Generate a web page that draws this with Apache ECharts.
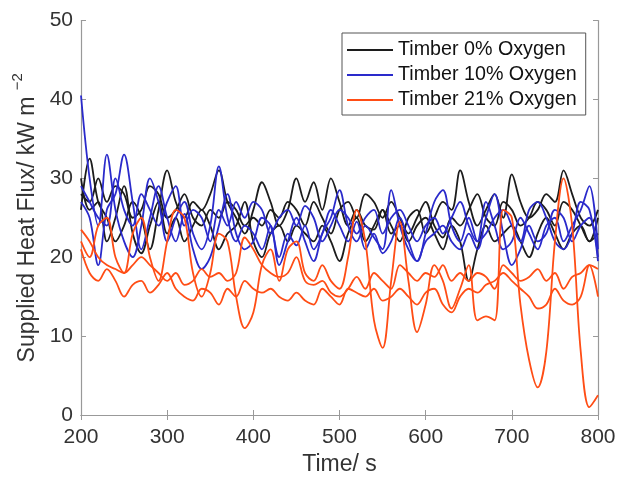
<!DOCTYPE html>
<html><head><meta charset="utf-8">
<script src="https://cdn.jsdelivr.net/npm/echarts@6/dist/echarts.min.js"></script>
<style>html,body{margin:0;padding:0;background:#fff}#c{width:617px;height:477px}</style>
</head><body><div id="c"></div>
<script>
var times = [200,210,220,230,240,250,260,270,280,290,300,310,320,330,340,350,360,370,380,390,400,410,420,430,440,450,460,470,480,490,500,510,520,530,540,550,560,570,580,590,600,610,620,630,640,650,660,670,680,690,700,710,720,730,740,750,760,770,780,790,800];
var xTicks = [200,300,400,500,600,700,800];
var yTicks = [0,10,20,30,40,50];
var seriesNames = ['Timber 0% Oxygen','Timber 10% Oxygen','Timber 21% Oxygen'];

var black1 = [26,32.5,27,25,22,24,27,25,21,26,31,27,25,27,26,28,31,27,25,23,26,29.5,27,24,26,30,27,29.5,26,30,27,24,26,24,23.5,26,24,22,25,26,23,25,27,26,31,27,24,26,28,25,30.5,27,25,26,28,27,31,28,25,24,26];
var black2 = [28,27,30,27,29,28,25,26,29,28,25,26,28,25,24,26,25,27,26,24,25,24,26,25,27,26,24,27,25,23,26,27,25,28,27,25,27,25,23,25,27,24,22.5,25,24,26,28,25,24,27,26,24,25,27,26,24,27,26,24,22,25];
var black3 = [30,26,27,22,25,29,23,20.5,24,27,23,25,22,24,26,24,21,23,24,27,22,20,23,24,22,24,23,22,24,22,19.5,23,25,22,24,26,23,24,22,24,25,23,21,24,22,17,21,24,22,23,24,22,20,23,25,23,21,23,24,22,23];
var blue1 = [40.5,30,24,33,26,22,20,24,30,27,22,25,27,23,21,24,31.5,25,22,24,23,21,24,19,22,25,22,19.5,23,25,28.5,24,22,24,22.5,21,28.5,24,21,19.5,23,27,28.5,24,22,25,22,27,24,21,22,25,23,21,24,25,22,24,26,29,21];
var blue2 = [27,25,19,26,28,33,27,21,25,29,25,22,25.5,21,18.5,20,24,28,23,21,22,25,24,20,23,21.5,24,21,23,26,24,22,24.5,21,23,20.5,22,25,22,19.5,22,23,24,22,21,23,21,25,28,23,19,21,24,22,23,26,25,22,24,25,20];
var blue3 = [29,27,25,24,30,26,24,28,26,24,27,29,24,26,25,22,26,24,27,25,27,26,23,25,26,24,26.5,25,22,24,26,25,23,25,26,23,25,26,24,22,24,25,23,25,27,24,22,23,25,26,24,22,26,27,25,22,21,23,27,26,19.5];
var orange1 = [23.5,22,20,19,18.5,18,19,20,19,18,17,18,16.5,17,18.5,17.5,18,17,18,22.5,21,19,18,17.5,18,20,17,16.5,17,15.5,15,16,17.5,16,18,17,16,19,18,17,18,17.5,19,17,18,17,18,17.5,16,19,18,17,17.5,18.5,17,18,16,17.5,18,19,18.5];
var orange2 = [21,18,17,18.5,17,15,16.5,17,15.5,16.5,18,16,15,14.5,16,15.5,14,16,15,17,16,15.5,16,15,14.5,15.5,14.5,14,16,15,14,16,15.5,15,16,14.5,15,16,15,14,15.5,16,14,13,15,16,15.5,16.5,17,18,17,16,15,13.5,14,16,14.5,14,15,19,15];
var orange3 = [22,20,24,25,20,18,23,25,20,17,22,26,25,18,15,18,23,22,15,11,13,19,21,17,21,22,18,17,19,17,16,20,26,22,12,8.5,17,24.5,17,10.5,14,19,17,13.5,16,19,12,12.5,12,26,25,14,7,3.5,8,22,30,24,8,1,2.5];

function pairs(v){ return times.map(function(t,i){ return [t, v[i]]; }); }
var groups = [
  {name: seriesNames[0], color: '#1c1c1c', lines: [black1, black2, black3]},
  {name: seriesNames[1], color: '#2a2acb', lines: [blue1, blue2, blue3]},
  {name: seriesNames[2], color: '#ff4d15', lines: [orange1, orange2, orange3]}
];
var series = [];
groups.forEach(function(g){
  g.lines.forEach(function(v){
    series.push({type:'line', name:g.name, data:pairs(v), smooth:0.35, showSymbol:false, symbol:'none',
      lineStyle:{color:g.color, width:1.8}, itemStyle:{color:g.color}, silent:true, animation:false});
  });
});

var axisCol = '#999999';
var chart = echarts.init(document.getElementById('c'), null, {renderer:'canvas'});
chart.setOption({
  animation:false,
  textStyle:{fontFamily:'Liberation Sans, Arial, sans-serif'},
  grid:{left:81, right:19, top:20.5, bottom:62, containLabel:false, outerBoundsMode:'none'},
  legend:{
    data: seriesNames, orient:'vertical', left:342, top:33,
    icon:'rect', itemWidth:46, itemHeight:2, itemGap:5,
    padding:[7,9,5,5], backgroundColor:'#fff', borderColor:'#555', borderWidth:1,
    textStyle:{fontSize:19.7, color:'#111', fontFamily:'Liberation Sans, Arial, sans-serif'},
    selectedMode:false
  },
  xAxis:[
    {type:'value', min:xTicks[0], max:xTicks[xTicks.length-1], interval:100,
     name:'Time/ s', nameLocation:'middle', nameGap:34,
     nameTextStyle:{fontSize:23, color:'#333'},
     axisLine:{show:true, lineStyle:{color:axisCol, width:1.2}},
     axisTick:{show:true, inside:true, length:5, lineStyle:{color:axisCol}},
     axisLabel:{fontSize:21, color:'#333', margin:12},
     splitLine:{show:false}},
    {type:'value', position:'top', min:xTicks[0], max:xTicks[xTicks.length-1], interval:100,
     axisLine:{show:true, lineStyle:{color:axisCol, width:1.2}},
     axisTick:{show:true, inside:true, length:5, lineStyle:{color:axisCol}},
     axisLabel:{show:false}, splitLine:{show:false}}
  ],
  yAxis:[
    {type:'value', min:yTicks[0], max:yTicks[yTicks.length-1], interval:10,
     name:'{m|Supplied Heat Flux/ kW m }{s|−2}', nameLocation:'middle', nameGap:41,
     nameTextStyle:{fontSize:23, color:'#333',
       rich:{m:{fontSize:23, color:'#333', verticalAlign:'bottom'},
             s:{fontSize:15, color:'#333', verticalAlign:'bottom', padding:[0,0,13,0]}}},
     axisLine:{show:true, lineStyle:{color:axisCol, width:1.2}},
     axisTick:{show:true, inside:true, length:5, lineStyle:{color:axisCol}},
     axisLabel:{fontSize:21, color:'#333', margin:8},
     splitLine:{show:false}},
    {type:'value', position:'right', min:yTicks[0], max:yTicks[yTicks.length-1], interval:10,
     axisLine:{show:true, lineStyle:{color:axisCol, width:1.2}},
     axisTick:{show:true, inside:true, length:5, lineStyle:{color:axisCol}},
     axisLabel:{show:false}, splitLine:{show:false}}
  ],
  series: series
});
</script></body></html>
